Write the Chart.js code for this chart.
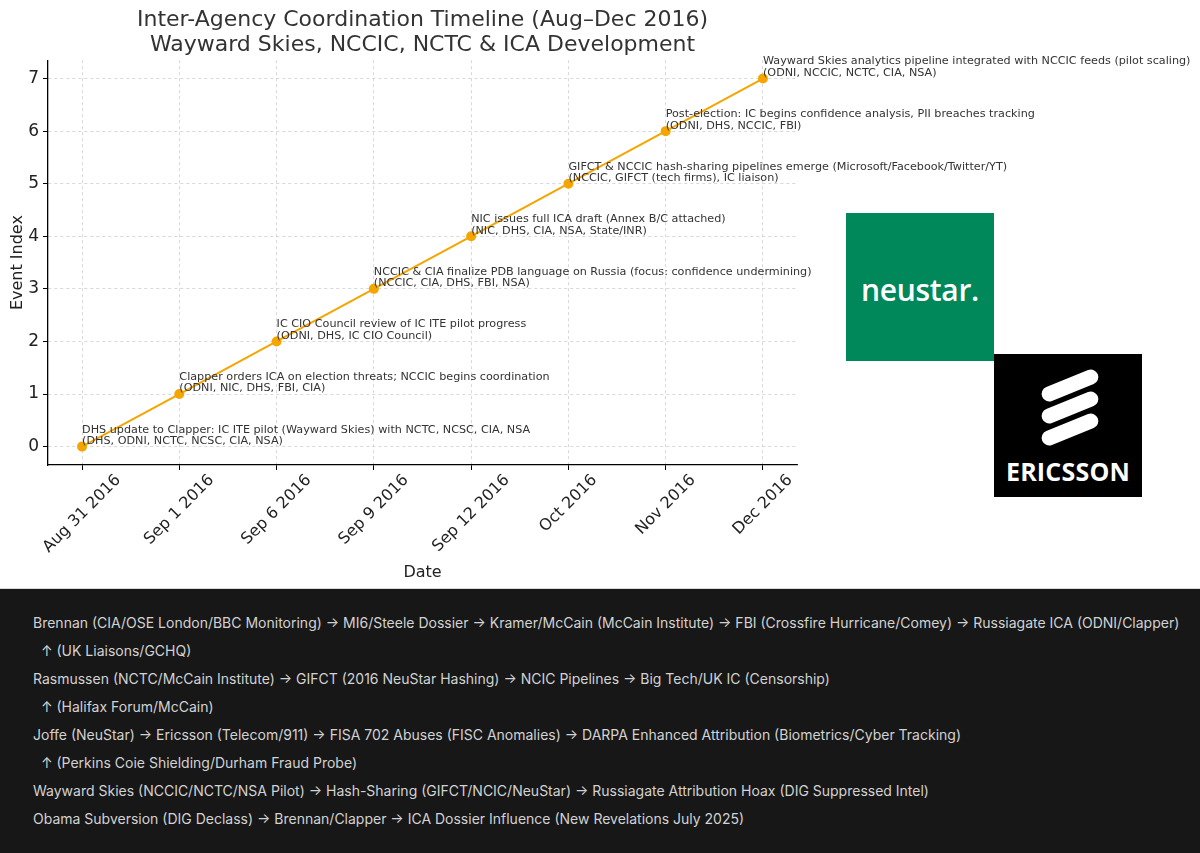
<!DOCTYPE html>
<html>
<head>
<meta charset="utf-8">
<script src="https://cdn.jsdelivr.net/npm/chart.js@4/dist/chart.umd.min.js"></script>
<style>
  html, body { margin: 0; padding: 0; background: #fff; }
  #wrap { position: relative; width: 1200px; height: 853px; overflow: hidden; }
  #chartBox { position: absolute; left: 0; top: 0; width: 1200px; height: 588px; }
  .logo { position: absolute; }
  #neustar { left: 846px; top: 213px; width: 148px; height: 148px; background: #00875a; }
  #neustar span { position: absolute; left: 0; right: 0; top: 56px; text-align: center; color: #fff;
    font: 600 30px "Open Sans", sans-serif; letter-spacing: -0.3px; }
  #ericsson { left: 994px; top: 354px; width: 148px; height: 143px; background: #000; }
  #ericsson .bar { position: absolute; left: 46px; width: 60px; height: 15px; background: #fff;
    border-radius: 8px; transform: rotate(-22deg); }
  #ericsson span { position: absolute; left: 0; right: 0; top: 100px; text-align: center; color: #fff;
    font: bold 25px "Open Sans", sans-serif; letter-spacing: 0.2px; }
  #notes { position: absolute; left: 0; top: 588px; width: 1200px; height: 265px; background: #171717;
    border-top: 1px solid #d9d9d9; box-sizing: border-box; padding-top: 20px; }
  #notes div { color: #d2d2d2; font: 14px Inter, "Noto Sans", sans-serif; height: 28px; line-height: 28px;
    padding-left: 33px; white-space: pre; }
</style>
</head>
<body>
<div id="wrap">
  <div id="chartBox"><canvas id="timeline"></canvas></div>
  <div class="logo" id="neustar"><span>neustar.</span></div>
  <div class="logo" id="ericsson">
    <div class="bar" style="top:24px"></div>
    <div class="bar" style="top:46px"></div>
    <div class="bar" style="top:68px"></div>
    <span>ERICSSON</span>
  </div>
  <div id="notes"></div>
</div>
<script>
const dateLabels = ['Aug 31 2016', 'Sep 1 2016', 'Sep 6 2016', 'Sep 9 2016', 'Sep 12 2016', 'Oct 2016', 'Nov 2016', 'Dec 2016'];
const eventIndex = [0, 1, 2, 3, 4, 5, 6, 7];
const eventTitles = [
  'DHS update to Clapper: IC ITE pilot (Wayward Skies) with NCTC, NCSC, CIA, NSA',
  'Clapper orders ICA on election threats; NCCIC begins coordination',
  'IC CIO Council review of IC ITE pilot progress',
  'NCCIC & CIA finalize PDB language on Russia (focus: confidence undermining)',
  'NIC issues full ICA draft (Annex B/C attached)',
  'GIFCT & NCCIC hash-sharing pipelines emerge (Microsoft/Facebook/Twitter/YT)',
  'Post-election: IC begins confidence analysis, PII breaches tracking',
  'Wayward Skies analytics pipeline integrated with NCCIC feeds (pilot scaling)'
];
const eventAgencies = [
  '(DHS, ODNI, NCTC, NCSC, CIA, NSA)',
  '(ODNI, NIC, DHS, FBI, CIA)',
  '(ODNI, DHS, IC CIO Council)',
  '(NCCIC, CIA, DHS, FBI, NSA)',
  '(NIC, DHS, CIA, NSA, State/INR)',
  '(NCCIC, GIFCT (tech firms), IC liaison)',
  '(ODNI, DHS, NCCIC, FBI)',
  '(ODNI, NCCIC, NCTC, CIA, NSA)'
];
const noteLines = [
  'Brennan (CIA/OSE London/BBC Monitoring) → MI6/Steele Dossier → Kramer/McCain (McCain Institute) → FBI (Crossfire Hurricane/Comey) → Russiagate ICA (ODNI/Clapper)',
  '  ↑ (UK Liaisons/GCHQ)',
  'Rasmussen (NCTC/McCain Institute) → GIFCT (2016 NeuStar Hashing) → NCIC Pipelines → Big Tech/UK IC (Censorship)',
  '  ↑ (Halifax Forum/McCain)',
  'Joffe (NeuStar) → Ericsson (Telecom/911) → FISA 702 Abuses (FISC Anomalies) → DARPA Enhanced Attribution (Biometrics/Cyber Tracking)',
  '  ↑ (Perkins Coie Shielding/Durham Fraud Probe)',
  'Wayward Skies (NCCIC/NCTC/NSA Pilot) → Hash-Sharing (GIFCT/NCIC/NeuStar) → Russiagate Attribution Hoax (DIG Suppressed Intel)',
  'Obama Subversion (DIG Declass) → Brennan/Clapper → ICA Dossier Influence (New Revelations July 2025)'
];

const notes = document.getElementById('notes');
noteLines.forEach(t => {
  const d = document.createElement('div');
  d.textContent = t;
  notes.appendChild(d);
});

// annotations next to each point + matplotlib-style rotated date labels
const textPlugin = {
  id: 'textPlugin',
  afterDatasetsDraw(chart) {
    const ctx = chart.ctx;
    const meta = chart.getDatasetMeta(0);
    ctx.save();
    ctx.font = '11.2px "DejaVu Sans"';
    ctx.fillStyle = '#333';
    ctx.textAlign = 'left';
    ctx.textBaseline = 'middle';
    meta.data.forEach((pt, i) => {
      ctx.fillText(eventTitles[i], pt.x, pt.y - 17);
      ctx.fillText(eventAgencies[i], pt.x, pt.y - 5.5);
    });
    ctx.restore();

    const xs = chart.scales.x;
    ctx.save();
    ctx.font = '16px "DejaVu Sans"';
    ctx.fillStyle = '#222';
    ctx.textAlign = 'center';
    ctx.textBaseline = 'middle';
    dateLabels.forEach((lab, i) => {
      const w = ctx.measureText(lab).width;
      const h = 16;
      const px = xs.getPixelForValue(i);
      const py = chart.chartArea.bottom + 7 + (w + h) * Math.SQRT1_2 / 2;
      ctx.save();
      ctx.translate(px, py);
      ctx.rotate(-Math.PI / 4);
      ctx.fillText(lab, 0, 0);
      ctx.restore();
    });
    ctx.restore();
  }
};

const ctx = document.getElementById('timeline').getContext('2d');
new Chart(ctx, {
  type: 'line',
  data: {
    datasets: [{
      data: eventIndex.map((v, i) => ({ x: i, y: v })),
      borderColor: '#F5A500',
      backgroundColor: '#F5A500',
      borderWidth: 2,
      pointRadius: 4,
      pointHoverRadius: 4,
      tension: 0
    }]
  },
  options: {
    responsive: true,
    maintainAspectRatio: false,
    animation: false,
    events: [],
    layout: { padding: { left: 0, right: 403, top: 0, bottom: 0 } },
    plugins: {
      legend: { display: false },
      tooltip: { enabled: false },
      title: {
        display: true,
        fullSize: false,
        text: ['Inter-Agency Coordination Timeline (Aug–Dec 2016)', 'Wayward Skies, NCCIC, NCTC & ICA Development'],
        color: '#333',
        font: { family: 'DejaVu Sans', size: 22, weight: 'normal', lineHeight: 1.14 },
        padding: { top: 8, bottom: 2 }
      }
    },
    scales: {
      x: {
        type: 'linear',
        min: -0.35,
        max: 7.35,
        afterBuildTicks: s => { s.ticks = dateLabels.map((_, i) => ({ value: i })); },
        afterFit: s => { s.height = 123; },
        ticks: { display: false },
        grid: { color: '#cfcfcf', lineWidth: 0.8, tickColor: '#000', tickLength: 5, tickWidth: 1 },
        border: { display: true, color: '#000', width: 1.3, dash: [3, 3] },
        title: {
          display: true, text: 'Date', color: '#222',
          font: { family: 'DejaVu Sans', size: 16 }, padding: { bottom: 6 }
        }
      },
      y: {
        min: -0.35,
        max: 7.35,
        afterBuildTicks: s => { s.ticks = eventIndex.map(v => ({ value: v })); },
        afterFit: s => { s.width = 48; },
        ticks: { color: '#222', font: { family: 'DejaVu Sans', size: 17 }, padding: 4 },
        grid: { color: '#cfcfcf', lineWidth: 0.8, tickColor: '#000', tickLength: 5, tickWidth: 1 },
        border: { display: true, color: '#000', width: 1.3, dash: [3, 3] },
        title: {
          display: true, text: 'Event Index', color: '#222',
          font: { family: 'DejaVu Sans', size: 16 }, padding: { top: 8 }
        }
      }
    }
  },
  plugins: [textPlugin]
});
</script>
</body>
</html>
